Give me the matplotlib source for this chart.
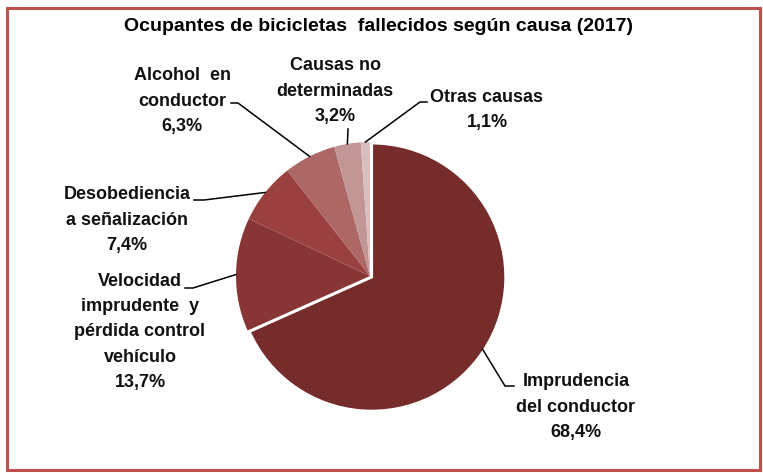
import numpy as np
import matplotlib
matplotlib.use("Agg")
import matplotlib.pyplot as plt
from matplotlib.patches import Rectangle

# data
causas = ["Imprudencia\ndel conductor", "Velocidad\nimprudente  y\npérdida control\nvehículo",
          "Desobediencia\na señalización", "Alcohol  en\nconductor",
          "Causas no\ndeterminadas", "Otras causas"]
porcentajes = [68.4, 13.7, 7.4, 6.3, 3.2, 1.1]
colores = ["#772c2c", "#883535", "#9a4140", "#ad6765", "#c29695", "#d8bfbf"]

# label text centre, leader stub end and elbow, in pixels from top-left
label_pos = [(576, 407), (140, 332), (127, 220), (182, 101), (335, 91), (487, 110)]
stub_end = [(514, 386), (185, 288), (194, 200), (231, 103), (348, 129), (427, 102)]
elbow = [(505, 386), (193, 288), (204, 200), (238, 103), (348, 129), (420, 102)]

W, H = 763, 473
cx, cy, r = 370, 276, 134


def main():
    plt.rcParams['font.family'] = ['Liberation Sans', 'DejaVu Sans']
    fig = plt.figure(figsize=(W / 100, H / 100), dpi=100)
    ax = fig.add_axes([0, 0, 1, 1])

    wedges, _ = ax.pie(porcentajes, colors=colores, startangle=90, counterclock=False,
                       center=(cx, H - cy), radius=r, explode=[0.015 * r] + [0] * 5,
                       frame=True, wedgeprops=dict(linewidth=0))
    wedges[0].set_edgecolor("white")
    wedges[0].set_linewidth(2)
    ax.set_xlim(0, W)
    ax.set_ylim(0, H)
    ax.set_aspect('equal')
    ax.axis('off')

    total = sum(porcentajes)
    cum = 0
    for i, v in enumerate(porcentajes):
        mid = 90 - 360 * (cum + v / 2) / total
        cum += v
        ex, ey = cx + r * np.cos(np.radians(mid)), cy - r * np.sin(np.radians(mid))
        xs = [stub_end[i][0], elbow[i][0], ex]
        ys = [H - stub_end[i][1], H - elbow[i][1], H - ey]
        ax.plot(xs, ys, color="black", lw=1.1, solid_joinstyle="miter")
        txt = causas[i] + "\n" + f"{v:.1f}%".replace(".", ",")
        lx, ly = label_pos[i]
        ax.text(lx, H - ly, txt, ha="center", va="center", fontsize=13,
                fontweight="bold", linespacing=1.65, color="#111111")

    ax.text(379, H - 26, "Ocupantes de bicicletas  fallecidos según causa (2017)",
            ha="center", va="center", fontsize=14, fontweight="bold")

    fig.patches.append(Rectangle((7 / W, 3 / H), (W - 10) / W, (H - 11) / H,
                                 transform=fig.transFigure, fill=False,
                                 edgecolor="#c0504d", linewidth=2.2))
    fig.savefig("out.png", dpi=100)


if __name__ == '__main__':
    main()
